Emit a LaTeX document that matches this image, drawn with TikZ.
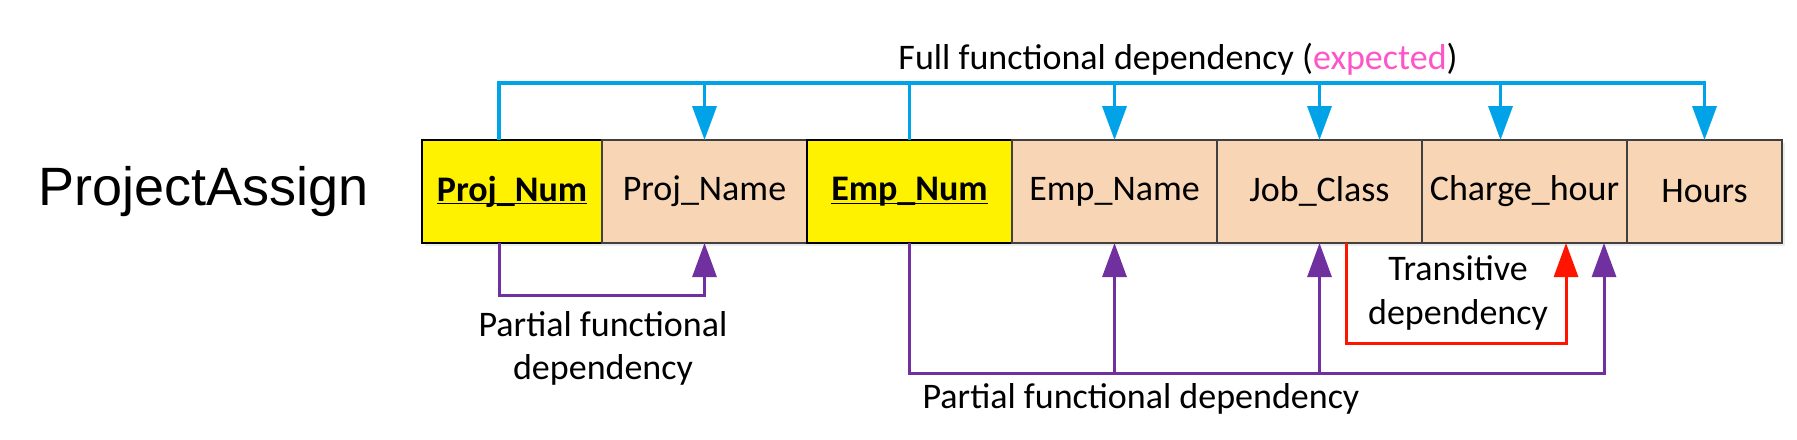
\documentclass[tikz,border=0pt]{standalone}
\usepackage{fontspec}
\setmainfont{Carlito}
\newfontfamily\arialfont{Liberation Sans}
\usepackage{xcolor}
\usetikzlibrary{arrows.meta, positioning, shadows}
\definecolor{keyyellow}{RGB}{255, 242, 0}
\definecolor{attrpeach}{RGB}{248, 214, 181}
\definecolor{fullblue}{RGB}{0, 162, 232}
\definecolor{partpurple}{RGB}{112, 48, 160}
\definecolor{transred}{RGB}{255, 20, 0}
\definecolor{expectpink}{RGB}{255, 84, 200}
\definecolor{cellgray}{RGB}{64, 64, 64}
\newcommand{\keyname}[1]{\underline{\smash{#1}}\vphantom{#1}}

\begin{document}
\begin{tikzpicture}[
    x=0.5pt, y=-0.5pt,
    base/.style={rectangle, draw=cellgray, line width=0.8pt, outer sep=0pt, inner sep=0pt, minimum height=51.5pt, minimum width=102.5pt, font=\fontsize{18}{21.6}\selectfont, drop shadow={opacity=0.15, shadow xshift=1.5pt, shadow yshift=-1.5pt}},
    keycell/.style={base, fill=keyyellow, draw=black, font=\fontsize{18}{21.6}\selectfont\bfseries},
    attrcell/.style={base, fill=attrpeach},
    deplabel/.style={align=center, font=\fontsize{18}{21.6}\selectfont, inner sep=0pt},
    dep/.style={line width=1.5pt},
    full/.style={dep, draw=fullblue, line width=1.8pt},
    partial/.style={dep, draw=partpurple},
    trans/.style={dep, draw=transred},
    arrow/.style={-{Triangle[width=12pt, length=17pt]}}
]
\useasboundingbox (0,0) rectangle (1797,439);

\node[font=\arialfont\fontsize{27}{32}\selectfont, anchor=base west, inner sep=0pt] (table) at (38,205) {ProjectAssign};

\node[keycell, minimum width=90pt, anchor=north west] (pnum) at (422,140) {\keyname{Proj\_Num}};
\node[attrcell, right=0pt of pnum] (pname) {Proj\_Name};
\node[keycell, right=0pt of pname] (enum) {\keyname{Emp\_Num}};
\node[attrcell, right=0pt of enum] (ename) {Emp\_Name};
\node[attrcell, right=0pt of ename] (jclass) {Job\_Class};
\node[attrcell, right=0pt of jclass] (chour) {Charge\_hour};
\node[attrcell, minimum width=77.5pt, right=0pt of chour] (hours) {Hours};

\coordinate (fdline) at (0,83);
\coordinate (pdleft) at (0,295);
\coordinate (pdright) at (0,373);
\coordinate (tdline) at (0,343);
\coordinate (pntop) at ([xshift=-6.5pt]pnum.north);
\coordinate (pnbot) at ([xshift=-6.5pt]pnum.south);
\coordinate (chtop) at ([xshift=-12pt]chour.north);
\coordinate (chbot) at ([xshift=-11.5pt]chour.south east);
\coordinate (jcbot) at ([xshift=13.5pt]jclass.south);
\coordinate (trend) at ([xshift=-30.5pt]chour.south east);

\draw[full, arrow] (pntop) |- (hours.north |- fdline) -- (hours.north);
\draw[full] (enum.north) -- (enum.north |- fdline);
\foreach \cell in {pname, ename, jclass, chtop}
    \draw[full, arrow] (\cell |- fdline) -- (\cell);
\node[deplabel, anchor=base] (fulltxt) at (1178,69) {Full functional dependency (\textcolor{expectpink}{expected})};

\draw[partial, arrow] (pnbot) |- (pname.south |- pdleft) -- (pname.south);
\node[deplabel] (lefttxt) at (603,348) {Partial functional\\dependency};

\draw[partial, arrow] (enum.south) |- (chbot |- pdright) -- (chbot);
\foreach \cell in {ename, jclass}
    \draw[partial, arrow] (\cell.south |- pdright) -- (\cell.south);
\node[deplabel, anchor=base] (righttxt) at (1141,408) {Partial functional dependency};

\draw[trans, arrow] (jcbot) |- (trend |- tdline) -- (trend);
\node[deplabel] (transtxt) at (1458,293) {Transitive\\dependency};

\end{tikzpicture}
\end{document}
